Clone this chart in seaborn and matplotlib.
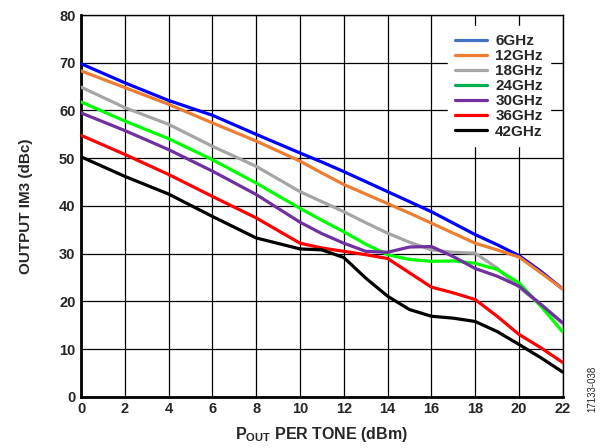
import pandas as pd
import matplotlib
matplotlib.use("Agg")
import matplotlib.pyplot as plt
from matplotlib.lines import Line2D
import seaborn as sns

# === 1. Data ===
pout = [0, 2, 4, 6, 8, 10, 11, 12, 13, 14, 15, 16, 17, 18, 19, 20, 21, 22]

im3_6ghz = [69.8, 65.8, 62.1, 59.0, 55.0, 51.1, 49.2, 47.2, 45.1, 43.0, 40.9, 38.8, 36.4, 34.0, 31.9, 29.6, 26.3, 22.6]
im3_12ghz = [68.3, 64.8, 61.3, 57.4, 53.6, 49.4, 46.9, 44.5, 42.5, 40.5, 38.5, 36.4, 34.3, 32.2, 30.8, 29.3, 26.0, 22.6]
im3_18ghz = [64.9, 60.6, 57.1, 52.5, 48.3, 43.0, 40.9, 38.8, 36.5, 34.3, 32.4, 30.8, 30.3, 30.1, 27.0, 23.0, 19.2, 15.4]
im3_24ghz = [61.8, 57.8, 54.1, 49.7, 44.8, 39.5, 37.0, 34.6, 32.0, 29.8, 28.8, 28.4, 28.5, 28.0, 26.7, 23.9, 19.0, 13.6]
im3_30ghz = [59.5, 55.8, 51.8, 47.3, 42.4, 36.6, 34.2, 32.2, 30.5, 30.3, 31.4, 31.5, 29.4, 26.9, 25.3, 23.2, 19.4, 15.5]
im3_36ghz = [54.8, 50.8, 46.6, 42.0, 37.5, 32.2, 31.2, 30.5, 29.8, 29.0, 26.0, 23.0, 21.8, 20.4, 16.9, 13.1, 10.3, 7.2]
im3_42ghz = [50.3, 46.2, 42.5, 37.8, 33.3, 31.0, 30.8, 29.2, 24.9, 21.1, 18.3, 16.9, 16.5, 15.8, 13.7, 11.0, 8.2, 5.2]

freqs = ["6GHz", "12GHz", "18GHz", "24GHz", "30GHz", "36GHz", "42GHz"]
series = [im3_6ghz, im3_12ghz, im3_18ghz, im3_24ghz, im3_30ghz, im3_36ghz, im3_42ghz]

# trace colours and the (slightly different) legend swatch colours
line_colors = ["#0000FF", "#ED7D31", "#A5A5A5", "#00FF00", "#7030A0", "#FF0000", "#000000"]
legend_colors = ["#4472C4", "#ED7D31", "#A5A5A5", "#00B050", "#7030A0", "#FF0000", "#000000"]

df = pd.DataFrame({
    "pout": pout * len(freqs),
    "im3": [v for s in series for v in s],
    "freq": [f for f in freqs for _ in pout],
})

# === 2. Style ===
sns.set_style("white")
plt.rcParams["font.family"] = ["Liberation Sans", "DejaVu Sans"]
plt.rcParams["font.weight"] = "bold"
plt.rcParams["mathtext.fontset"] = "custom"
plt.rcParams["mathtext.rm"] = "Liberation Sans:bold"
plt.rcParams["mathtext.it"] = "Liberation Sans:bold"
plt.rcParams["mathtext.bf"] = "Liberation Sans:bold"

fig, ax = plt.subplots(figsize=(6, 4.48), dpi=100)
fig.subplots_adjust(left=0.135, right=0.938, top=0.9665, bottom=0.114)

# === 3. Plot ===
sns.lineplot(data=df, x="pout", y="im3", hue="freq", hue_order=freqs,
             palette=dict(zip(freqs, line_colors)), linewidth=2.3,
             legend=False, ax=ax, zorder=3)

ax.set_xlim(0, 22)
ax.set_ylim(0, 80)
ax.set_xticks(range(0, 23, 2))
ax.set_yticks(range(0, 81, 10))
ax.grid(True, color="black", linewidth=0.9)
ax.set_axisbelow(True)
ax.tick_params(length=0, labelsize=10.5, pad=4)
for lab in ax.get_xticklabels() + ax.get_yticklabels():
    lab.set_fontweight("bold")

for side in ["top", "right"]:
    ax.spines[side].set_linewidth(1.0)
for side in ["left", "bottom"]:
    ax.spines[side].set_linewidth(2.0)
for sp in ax.spines.values():
    sp.set_color("black")

ax.set_xlabel(r"P$_{\mathregular{OUT}}$ PER TONE (dBm)", fontsize=11.5, fontweight="bold", labelpad=6)
ax.set_ylabel("OUTPUT IM3 (dBc)", fontsize=11, fontweight="bold", labelpad=19)

handles = [Line2D([0], [0], color=c, linewidth=2.3) for c in legend_colors]
leg = ax.legend(handles, freqs, loc="upper right", bbox_to_anchor=(0.99, 0.99),
                frameon=True, fancybox=False, framealpha=1, edgecolor="white",
                fontsize=11, handlelength=2.05, handletextpad=0.55,
                labelspacing=0.07, borderpad=0.5)
leg.set_zorder(5)
for t in leg.get_texts():
    t.set_fontweight("bold")

fig.text(0.987, 0.132, "17133-038", rotation=90, fontsize=7, fontweight="normal",
         ha="center", va="center")

plt.savefig("out.png", dpi=100)
